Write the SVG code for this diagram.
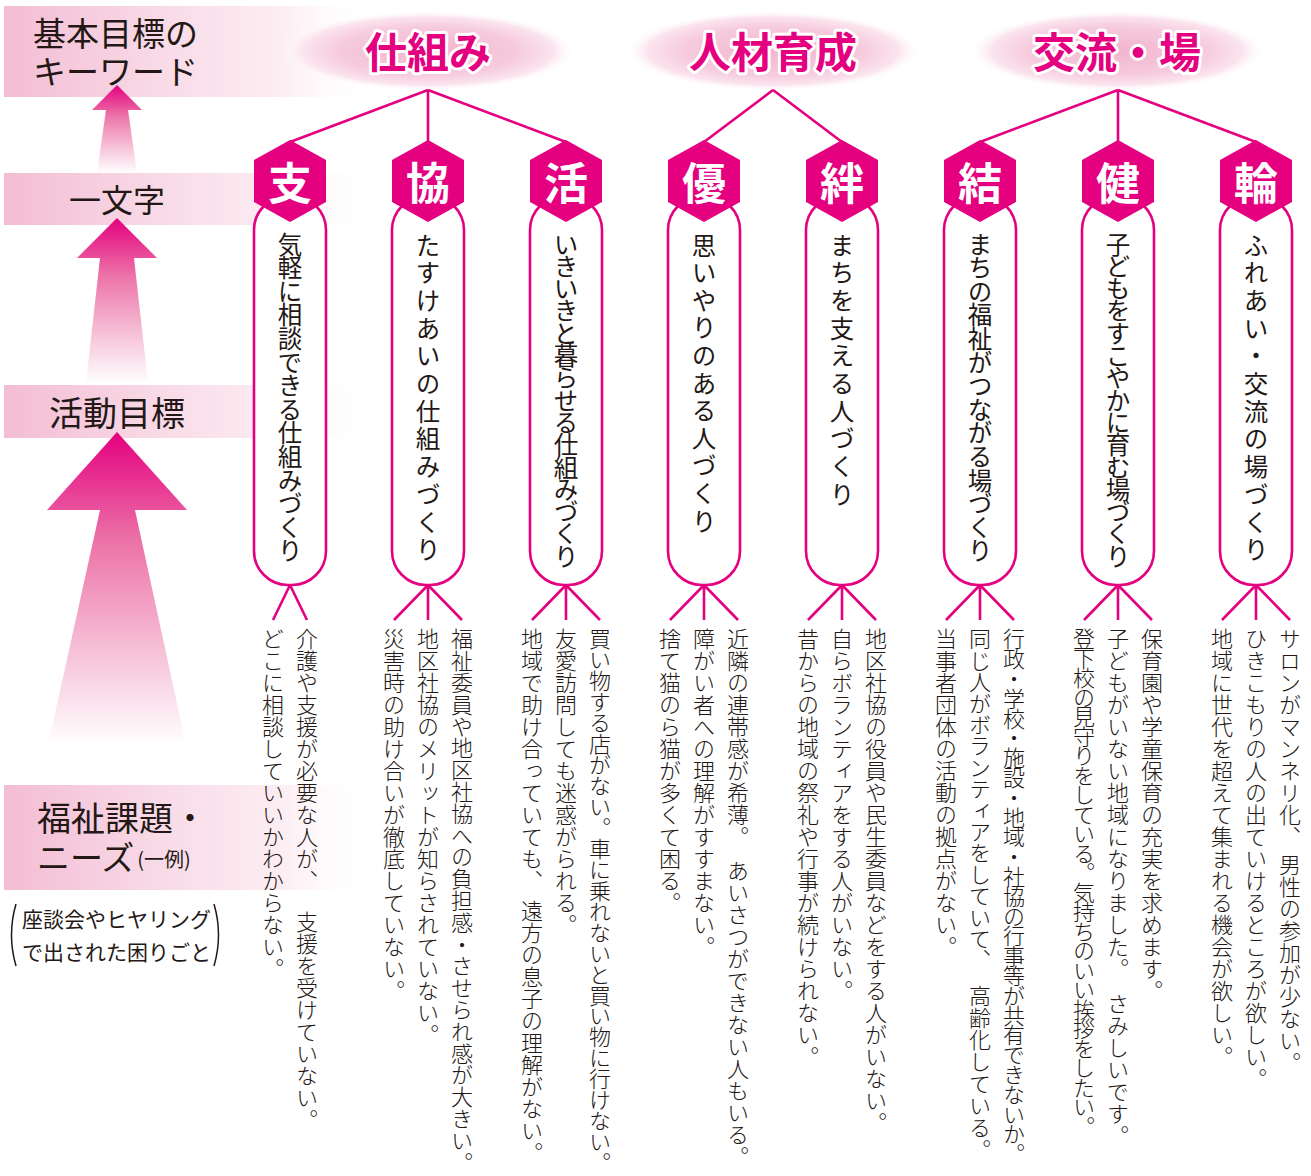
<svg xmlns="http://www.w3.org/2000/svg" width="1311" height="1176" viewBox="0 0 1311 1176">
<style>
.jp{font-family:"Noto Sans CJK JP","Noto Sans",sans-serif;fill:#231815}
.lbl{font-size:33px}
.v{font-family:"Noto Sans CJK JP",sans-serif;font-size:22px;writing-mode:vertical-rl;fill:#231815;font-weight:300}
.pv{font-family:"Noto Sans CJK JP",sans-serif;font-size:24.5px;writing-mode:vertical-rl;fill:#231815}
.kw{font-family:"Noto Sans CJK JP",sans-serif;font-size:42px;font-weight:700;fill:#E4007F;stroke:#fff;stroke-width:6px;stroke-linejoin:round;paint-order:stroke;text-anchor:middle}
.hx{fill:#E4007F}
.hc{font-family:"Noto Sans CJK JP",sans-serif;font-size:44px;font-weight:700;fill:#fff;text-anchor:middle;dominant-baseline:central}
.pill{fill:#fff;stroke:#E4007F;stroke-width:2.6}
.ln{stroke:#E4007F;stroke-width:2.6;fill:none}
</style>
<defs>
<linearGradient id="band" x1="0" y1="0" x2="1" y2="0">
<stop offset="0" stop-color="#F3BDD4"/>
<stop offset="0.45" stop-color="#F9DCE8"/>
<stop offset="0.75" stop-color="#FCEDF3"/>
<stop offset="1" stop-color="#FFFFFF" stop-opacity="0"/>
</linearGradient>
<radialGradient id="ell" cx="0.5" cy="0.5" r="0.5">
<stop offset="0" stop-color="#F2B4CE"/>
<stop offset="0.6" stop-color="#F6CBDD"/>
<stop offset="0.85" stop-color="#FBE4EE"/>
<stop offset="1" stop-color="#FFFFFF" stop-opacity="0"/>
</radialGradient>
<linearGradient id="arr" x1="0" y1="0" x2="0" y2="1">
<stop offset="0" stop-color="#E4007F"/>
<stop offset="0.35" stop-color="#EC73A8"/>
<stop offset="0.7" stop-color="#F6C1D7"/>
<stop offset="1" stop-color="#FFFFFF"/>
</linearGradient>
</defs>

<g id="bands">
<rect x="4" y="6" width="370" height="91" fill="url(#band)"/>
<rect x="4" y="173" width="370" height="52" fill="url(#band)"/>
<rect x="4" y="385" width="370" height="53" fill="url(#band)"/>
<rect x="4" y="785" width="370" height="105" fill="url(#band)"/>
</g>

<g id="arrows">
<path d="M117,85 L142,110 L128,110 L137,173 L97,173 L106,110 L92,110 Z" fill="url(#arr)"/>
<path d="M117,218 L157,258 L134,258 L148,383 L86,383 L100,258 L77,258 Z" fill="url(#arr)"/>
<path d="M117,432 L187,510 L135,510 L186,745 L48,745 L100,510 L47,510 Z" fill="url(#arr)"/>
</g>

<g id="labels">
<text class="jp lbl" x="33" y="46">基本目標の</text>
<text class="jp lbl" x="33" y="84">キーワード</text>
<text class="jp" x="117" y="212" font-size="32" text-anchor="middle">一文字</text>
<text class="jp" x="117" y="426" font-size="34" text-anchor="middle">活動目標</text>
<text class="jp" x="37" y="831" font-size="34">福祉課題・</text>
<text class="jp" x="37" y="870" font-size="33">ニーズ<tspan font-size="20" dx="3" dy="-3">(一例)</tspan></text>
<text class="jp" x="22" y="927" font-size="21">座談会やヒヤリング</text>
<text class="jp" x="22" y="960" font-size="21">で出された困りごと</text>
<path d="M16,904 Q7,935 16,966" fill="none" stroke="#231815" stroke-width="1.5"/>
<path d="M214,904 Q223,935 214,966" fill="none" stroke="#231815" stroke-width="1.5"/>
</g>

<g id="keywords">
<ellipse cx="428" cy="51" rx="148" ry="40" fill="url(#ell)"/>
<ellipse cx="773" cy="51" rx="148" ry="40" fill="url(#ell)"/>
<ellipse cx="1117" cy="51" rx="148" ry="40" fill="url(#ell)"/>
<text class="kw" x="428" y="68">仕組み</text>
<text class="kw" x="773" y="68">人材育成</text>
<text class="kw" x="1117" y="68">交流・場</text>
</g>

<g id="connectors">
<path class="ln" d="M428,90 L290,142 M428,90 L428,142 M428,90 L566,142"/>
<path class="ln" d="M773,90 L704,142 M773,90 L842,142"/>
<path class="ln" d="M1118,90 L980,142 M1118,90 L1118,142 M1118,90 L1256,142"/>
<path class="ln" d="M290,585 L273,620 M290,585 L307,620"/>
<path class="ln" d="M428,585 L394,620 M428,585 L428,620 M428,585 L462,620"/>
<path class="ln" d="M566,585 L532,620 M566,585 L566,620 M566,585 L600,620"/>
<path class="ln" d="M704,585 L670,620 M704,585 L704,620 M704,585 L738,620"/>
<path class="ln" d="M842,585 L808,620 M842,585 L842,620 M842,585 L876,620"/>
<path class="ln" d="M980,585 L946,620 M980,585 L980,620 M980,585 L1014,620"/>
<path class="ln" d="M1118,585 L1084,620 M1118,585 L1118,620 M1118,585 L1152,620"/>
<path class="ln" d="M1256,585 L1222,620 M1256,585 L1256,620 M1256,585 L1290,620"/>
</g>

<g id="node-shi">
<rect class="pill" x="254" y="196" width="72" height="389" rx="34"/>
<polygon class="hx" points="290,140 326,160 326,202 290,222 254,202 254,160"/>
<text class="hc" x="290" y="181">支</text>
<text class="pv" x="290" y="232" letter-spacing="-0.9">気軽に相談できる仕組みづくり</text>
<text class="v" x="307" y="628">介護や支援が必要な人が、</text>
<text class="v" x="307" y="911">支援を受けていない。</text>
<text class="v" x="273" y="628">どこに相談していいかわからない。</text>
</g>

<g id="node-kyo">
<rect class="pill" x="392" y="196" width="72" height="389" rx="34"/>
<polygon class="hx" points="428,140 464,160 464,202 428,222 392,202 392,160"/>
<text class="hc" x="428" y="181">協</text>
<text class="pv" x="428" y="233" letter-spacing="3.2">たすけあいの仕組みづくり</text>
<text class="v" x="462" y="628" letter-spacing="-0.2">福祉委員や地区社協への負担感・させられ感が大きい。</text>
<text class="v" x="428" y="628">地区社協のメリットが知らされていない。</text>
<text class="v" x="394" y="628">災害時の助け合いが徹底していない。</text>
</g>

<g id="node-katsu">
<rect class="pill" x="530" y="196" width="72" height="389" rx="34"/>
<polygon class="hx" points="566,140 602,160 602,202 566,222 530,202 530,160"/>
<text class="hc" x="566" y="181">活</text>
<text class="pv" x="566" y="232" letter-spacing="-2.2">いきいきと暮らせる仕組みづくり</text>
<text class="v" x="600" y="628" letter-spacing="-1.05">買い物する店がない。車に乗れないと買い物に行けない。</text>
<text class="v" x="566" y="628">友愛訪問しても迷惑がられる。</text>
<text class="v" x="532" y="628">地域で助け合っていても、</text>
<text class="v" x="532" y="900">遠方の息子の理解がない。</text>
</g>

<g id="node-yu">
<rect class="pill" x="668" y="196" width="72" height="389" rx="34"/>
<polygon class="hx" points="704,140 740,160 740,202 704,222 668,202 668,160"/>
<text class="hc" x="704" y="181">優</text>
<text class="pv" x="704" y="233" letter-spacing="3.1">思いやりのある人づくり</text>
<text class="v" x="738" y="628">近隣の連帯感が希薄。</text>
<text class="v" x="738" y="860">あいさつができない人もいる。</text>
<text class="v" x="704" y="628">障がい者への理解がすすまない。</text>
<text class="v" x="670" y="628">捨て猫のら猫が多くて困る。</text>
</g>

<g id="node-kizuna">
<rect class="pill" x="806" y="196" width="72" height="389" rx="34"/>
<polygon class="hx" points="842,140 878,160 878,202 842,222 806,202 806,160"/>
<text class="hc" x="842" y="181">絆</text>
<text class="pv" x="842" y="233" letter-spacing="3.2">まちを支える人づくり</text>
<text class="v" x="876" y="628">地区社協の役員や民生委員などをする人がいない。</text>
<text class="v" x="842" y="628">自らボランティアをする人がいない。</text>
<text class="v" x="808" y="628">昔からの地域の祭礼や行事が続けられない。</text>
</g>

<g id="node-musubi">
<rect class="pill" x="944" y="196" width="72" height="389" rx="34"/>
<polygon class="hx" points="980,140 1016,160 1016,202 980,222 944,202 944,160"/>
<text class="hc" x="980" y="181">結</text>
<text class="pv" x="980" y="232" letter-spacing="-0.9">まちの福祉がつながる場づくり</text>
<text class="v" x="1014" y="628" letter-spacing="-2.2">行政・学校・施設・地域・社協の行事等が共有できないか。</text>
<text class="v" x="980" y="628" letter-spacing="-0.6">同じ人がボランティアをしていて、</text>
<text class="v" x="980" y="985">高齢化している。</text>
<text class="v" x="946" y="628">当事者団体の活動の拠点がない。</text>
</g>

<g id="node-ken">
<rect class="pill" x="1082" y="196" width="72" height="389" rx="34"/>
<polygon class="hx" points="1118,140 1154,160 1154,202 1118,222 1082,202 1082,160"/>
<text class="hc" x="1118" y="181">健</text>
<text class="pv" x="1118" y="232" letter-spacing="-2.2">子どもをすこやかに育む場づくり</text>
<text class="v" x="1152" y="628">保育園や学童保育の充実を求めます。</text>
<text class="v" x="1118" y="628">子どもがいない地域になりました。</text>
<text class="v" x="1118" y="993">さみしいです。</text>
<text class="v" x="1084" y="628" letter-spacing="-2.5">登下校の見守りをしている。気持ちのいい挨拶をしたい。</text>
</g>

<g id="node-wa">
<rect class="pill" x="1220" y="196" width="72" height="389" rx="34"/>
<polygon class="hx" points="1256,140 1292,160 1292,202 1256,222 1220,202 1220,160"/>
<text class="hc" x="1256" y="181">輪</text>
<text class="pv" x="1256" y="233" letter-spacing="3.2">ふれあい・交流の場づくり</text>
<text class="v" x="1290" y="628">サロンがマンネリ化、</text>
<text class="v" x="1290" y="854">男性の参加が少ない。</text>
<text class="v" x="1256" y="628">ひきこもりの人の出ていけるところが欲しい。</text>
<text class="v" x="1222" y="628">地域に世代を超えて集まれる機会が欲しい。</text>
</g>
</svg>
